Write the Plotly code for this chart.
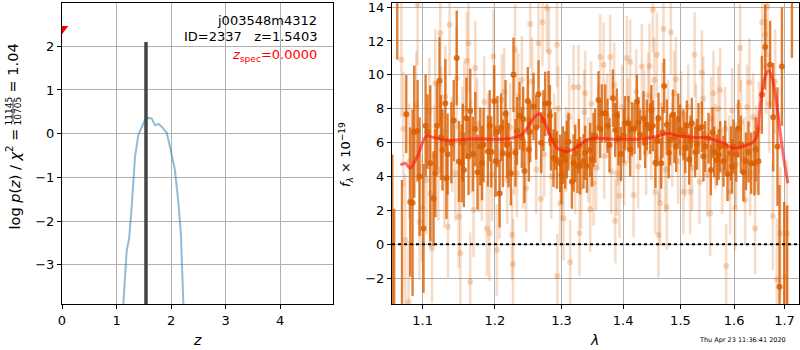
import plotly.graph_objects as go

# ---------------- redshift posterior panel ----------------
z_grid = [1.100, 1.125, 1.187, 1.229, 1.278, 1.339, 1.400, 1.462, 1.523, 1.572, 1.645,
          1.706, 1.767, 1.829, 1.920, 1.980, 2.070, 2.130, 2.180, 2.226, 2.240]
log_pz = [-4.6, -3.9, -2.66, -2.43, -1.67, -0.53, -0.03, 0.16, 0.32, 0.36, 0.35,
          0.19, 0.22, 0.16, 0.02, -0.30, -0.83, -1.52, -2.28, -3.9, -4.6]

z_best = 1.5403
spike_z = [z_best, z_best]
spike_logp = [-5.0, 2.10]

z_spec = 0.0
z_spec_marker = 2.4

# ---------------- spectrum panel ----------------
dark_wave = [1.0606, 1.0630, 1.0670, 1.0731, 1.0786, 1.0838, 1.0868, 1.0890, 1.0934, 1.1012,
             1.1065, 1.1102, 1.1146, 1.1192, 1.1226, 1.1266, 1.1305, 1.1336, 1.1387, 1.1461,
             1.1492, 1.1529, 1.1560, 1.1596, 1.1649, 1.1687, 1.1751, 1.1790, 1.1837, 1.1899,
             1.1947, 1.1990, 1.2037, 1.2067, 1.2116, 1.2154, 1.2198, 1.2233, 1.2271, 1.2321,
             1.2360, 1.2395, 1.2434, 1.2484, 1.2520, 1.2570, 1.2646, 1.2687, 1.2748, 1.2799,
             1.2836, 1.2876, 1.2929, 1.2980, 1.3022, 1.3058, 1.3110, 1.3164, 1.3216, 1.3253,
             1.3296, 1.3349, 1.3403, 1.3457, 1.3511, 1.3538, 1.3592, 1.3647, 1.3702, 1.3773,
             1.3830, 1.3868, 1.3923, 1.3964, 1.4035, 1.4091, 1.4149, 1.4193, 1.4234, 1.4291,
             1.4348, 1.4406, 1.4464, 1.4511, 1.4556, 1.4609, 1.4657, 1.4709, 1.4757, 1.4816,
             1.4864, 1.4923, 1.4995, 1.5055, 1.5116, 1.5158, 1.5207, 1.5268, 1.5329, 1.5391,
             1.5453, 1.5515, 1.5559, 1.5621, 1.5672, 1.5734, 1.5797, 1.5873, 1.5938, 1.5988,
             1.6084, 1.6181, 1.6279, 1.6332, 1.6396, 1.6475, 1.6543, 1.6609, 1.6709, 1.6770,
             1.6857, 1.6898, 1.6947, 1.6994, 1.7055, 1.7152,
             1.0960, 1.1040, 1.1170, 1.1245, 1.1320, 1.1420, 1.1545, 1.1625, 1.1720, 1.1815,
             1.1925, 1.2010, 1.2090, 1.2175, 1.2300, 1.2415, 1.2500, 1.2610, 1.2720, 1.2820,
             1.2905, 1.3000, 1.3085, 1.3190, 1.3275, 1.3375, 1.3485, 1.3620, 1.3740, 1.3895,
             1.4010, 1.4120, 1.4260, 1.4375, 1.4485, 1.4585, 1.4680, 1.4790, 1.4890, 1.4960,
             1.5085, 1.5185, 1.5300, 1.5420, 1.5590, 1.5705, 1.5830, 1.5960, 1.6040, 1.6130,
             1.6230, 1.6420]
dark_flux = [-6.0, -5.0, 16.5, -4.5, 7.68, 2.5, 2.46, 6.65, 6.69, 0.94,
             6.65, 4.78, 2.7, 6.99, 9.65, 5.57, 8.33, 5.32, 6.0, 11.0,
             4.89, 4.78, 4.39, 7.44, 7.87, 5.33, 4.25, 5.77, 5.86, 5.5,
             5.45, 8.46, 6.65, 3.0, 5.37, 7.7, 5.27, 4.19, 10.0, 6.69,
             7.58, 6.3, 4.33, 8.46, 6.65, 8.13, 8.86, 6.0, 8.29, 8.33,
             6.16, 5.08, 4.98, 4.78, 5.27, 4.98, 6.06, 3.7, 5.37, 4.62,
             4.64, 4.9, 4.64, 5.57, 6.16, 6.4, 8.52, 7.74, 7.74, 5.86,
             8.62, 6.75, 6.26, 5.33, 7.15, 7.15, 6.79, 6.83, 8.42, 6.46,
             7.44, 7.05, 6.83, 6.99, 4.82, 7.44, 4.78, 9.35, 7.05, 6.16,
             7.64, 5.77, 6.75, 6.46, 6.99, 5.02, 7.15, 5.45, 6.83, 6.93,
             5.77, 6.26, 4.39, 5.45, 4.98, 5.77, 4.9, 4.15, 5.37, 5.77,
             6.83, 4.25, 5.45, 4.78, 4.78, 4.9, 8.82, 11.64, 10.59, 7.5,
             5.77, -2.5, 10.49, -4.0, -5.0, 17.0,
             4.0, 7.0, 4.2, 6.3, 3.9, 7.3, 6.0, 5.2, 6.8, 4.8,
             7.0, 4.9, 6.9, 5.9, 5.4, 7.4, 5.6, 6.9, 7.3, 7.6,
             6.1, 4.1, 5.6, 4.8, 5.8, 5.4, 5.0, 6.8, 7.0, 7.6,
             6.4, 5.6, 7.2, 6.0, 7.9, 6.1, 6.6, 5.4, 6.3, 7.4,
             5.7, 6.1, 5.9, 5.2, 6.6, 5.3, 5.8, 4.6, 5.3, 5.9,
             4.9, 5.6]
dark_err = [11.3, 7.1, 5.6, 8.3, 2.3, 4.4, 5.5, 3.9, 3.0, 3.8,
            2.2, 4.6, 2.8, 2.6, 2.6, 2.4, 2.6, 2.4, 2.4, 2.8,
            2.4, 2.3, 2.2, 2.4, 2.5, 2.2, 2.2, 2.3, 2.2, 2.1,
            2.1, 2.1, 2.1, 2.0, 2.0, 2.0, 1.9, 1.9, 2.2, 2.0,
            2.0, 1.8, 1.9, 2.0, 1.8, 2.0, 2.0, 1.8, 1.9, 1.9,
            1.8, 1.7, 1.7, 1.7, 1.7, 1.7, 1.7, 1.6, 1.7, 1.6,
            1.7, 1.6, 1.6, 1.6, 1.6, 1.6, 1.7, 1.7, 1.7, 1.6,
            1.7, 1.6, 1.6, 1.6, 1.6, 1.6, 1.6, 1.5, 1.6, 1.5,
            1.6, 1.5, 1.5, 1.5, 1.5, 1.5, 1.5, 1.6, 1.5, 1.5,
            1.5, 1.5, 1.5, 1.5, 1.5, 1.5, 1.5, 1.5, 1.5, 1.5,
            1.5, 1.5, 1.5, 1.5, 1.5, 1.5, 1.5, 1.6, 1.6, 1.6,
            1.7, 1.7, 1.8, 1.8, 1.9, 2.0, 2.3, 2.5, 2.6, 3.2,
            3.5, 6.0, 3.5, 6.5, 7.3, 6.0,
            3.5, 3.0, 2.6, 2.5, 2.4, 2.4, 2.3, 2.3, 2.2, 2.2,
            2.1, 2.1, 2.0, 2.0, 2.0, 1.9, 1.9, 1.9, 1.8, 1.8,
            1.7, 1.7, 1.7, 1.7, 1.6, 1.6, 1.6, 1.7, 1.6, 1.6,
            1.6, 1.6, 1.5, 1.5, 1.5, 1.5, 1.5, 1.5, 1.5, 1.5,
            1.5, 1.5, 1.5, 1.5, 1.5, 1.5, 1.5, 1.6, 1.6, 1.7,
            1.7, 1.9]

light_wave = [1.0723, 1.0773, 1.0816, 1.0934, 1.0960, 1.0992, 1.1102, 1.1125, 1.1169, 1.1237,
              1.1305, 1.1341, 1.1363, 1.1461, 1.1488, 1.1511, 1.1603, 1.1626, 1.1649, 1.1696,
              1.1719, 1.1813, 1.1884, 1.1920, 1.1978, 1.2028, 1.2067, 1.2102, 1.2250, 1.2265,
              1.2296, 1.2321, 1.2395, 1.2460, 1.2520, 1.2646, 1.2682, 1.2707, 1.2775, 1.2806,
              1.2929, 1.2935, 1.2980, 1.3032, 1.3137, 1.3190, 1.3269, 1.3285, 1.3376, 1.3457,
              1.3511, 1.3620, 1.3675, 1.3785, 1.3868, 1.3896, 1.3940, 1.4063, 1.4120, 1.4177,
              1.4320, 1.4452, 1.4511, 1.4551, 1.4581, 1.4609, 1.4639, 1.4697, 1.4757, 1.4828,
              1.4918, 1.5055, 1.5177, 1.5257, 1.5348, 1.5391, 1.5546, 1.5608, 1.5734, 1.5848,
              1.5924, 1.6020, 1.6084, 1.6117, 1.6214, 1.6298, 1.6410, 1.6549, 1.6609, 1.6655,
              1.6763, 1.6844, 1.6912, 1.7014, 1.7049,
              1.0748, 1.0825, 1.0917, 1.1049, 1.1089, 1.1155, 1.1210, 1.1251, 1.1291, 1.1400,
              1.1441, 1.1539, 1.1566, 1.1663, 1.1747, 1.1775, 1.1847, 1.1904, 1.1961, 1.2135,
              1.2179, 1.2223, 1.2282, 1.2340, 1.2415, 1.2490, 1.2550, 1.2611, 1.2733, 1.2841,
              1.2887, 1.2949, 1.3011, 1.3074, 1.3121, 1.3216, 1.3312, 1.3360, 1.3425, 1.3473,
              1.3554, 1.3587, 1.3686, 1.3735, 1.3801, 1.3851, 1.3918, 1.3985, 1.4018, 1.4086,
              1.4222, 1.4256, 1.4360, 1.4394, 1.4429, 1.4481, 1.4534, 1.4622, 1.4674, 1.4727,
              1.4780, 1.4851, 1.4887, 1.4959, 1.5013, 1.5086, 1.5140, 1.5213, 1.5287, 1.5416,
              1.5490, 1.5565, 1.5640, 1.5696, 1.5772, 1.5829, 1.5905, 1.5962, 1.6039, 1.6136,
              1.6195, 1.6253, 1.6312, 1.6371, 1.6430, 1.6489, 1.6629, 1.6689, 1.6810]
light_flux = [10.9, 0.25, -3.4, 14.15, 1.33, 2.13, 3.0, -0.24, 9.5, 12.46,
              8.72, 1.04, 12.95, 9.8, 1.63, -0.53, 10.83, 11.87, -2.2, 2.03,
              10.4, 4.19, 0.94, 0.65, 11.08, -0.34, 3.0, 8.52, 0.55, -1.18,
              11.48, 4.19, 9.7, 3.3, 13.0, 11.87, 2.68, 13.11, 13.94, 11.38,
              11.77, -1.87, 2.42, 1.54, -1.06, 9.27, 9.27, 0.65, 8.92, 2.07,
              3.6, 11.05, 10.59, 11.05, 1.38, 4.19, 2.87, 10.99, 10.77, 2.91,
              10.49, 10.53, 13.84, 3.1, 11.18, 0.55, 2.42, 12.7, 2.19, 12.52,
              9.74, 3.1, 3.1, 11.18, 3.7, 10.14, 1.83, 8.92, 9.11, -1.28,
              3.1, 2.13, 8.17, 11.58, 2.62, 9.55, 0.94, 13.11, 12.36, 14.03,
              1.67, -2.07, 0.65, -1.91, 0.65,
              6.8, 4.9, 8.2, 3.8, 7.9, 5.2, 4.4, 7.6, 3.9, 5.9,
              4.2, 6.5, 8.0, 5.8, 7.1, 4.6, 8.4, 6.2, 4.1, 9.0,
              3.8, 6.9, 5.5, 8.7, 4.7, 7.3, 9.6, 4.4, 5.3, 4.0,
              6.4, 8.0, 3.9, 5.6, 7.5, 4.3, 3.4, 7.8, 5.0, 8.3,
              4.5, 6.9, 5.2, 7.6, 4.3, 9.4, 6.0, 8.1, 4.8, 7.3,
              9.0, 4.6, 7.8, 5.4, 8.8, 6.3, 9.7, 5.0, 8.2, 4.4,
              7.2, 5.9, 8.9, 4.9, 7.7, 5.3, 8.1, 4.5, 7.0, 8.6,
              4.1, 7.4, 5.8, 8.0, 4.3, 6.8, 5.1, 7.9, 4.7, 7.2,
              5.0, 8.1, 4.2, 7.5, 5.6, 6.9, 10.5, 8.3, 9.6]
light_err = [3.4, 3.9, 3.6, 3.6, 3.4, 3.2, 3.2, 3.2, 3.2, 3.2,
             3.0, 3.0, 3.0, 3.0, 3.0, 3.0, 2.9, 2.9, 2.9, 2.8,
             2.8, 2.8, 2.8, 2.8, 2.8, 2.7, 2.7, 2.7, 2.7, 2.7,
             2.7, 2.6, 2.6, 2.6, 2.6, 2.6, 2.6, 2.6, 2.6, 2.6,
             2.5, 2.5, 2.5, 2.5, 2.5, 2.5, 2.5, 2.5, 2.5, 2.5,
             2.5, 2.5, 2.5, 2.5, 2.5, 2.5, 2.5, 2.5, 2.5, 2.5,
             2.5, 2.5, 2.5, 2.5, 2.5, 2.5, 2.5, 2.5, 2.5, 2.5,
             2.5, 2.5, 2.5, 2.5, 2.5, 2.5, 2.5, 2.5, 2.5, 2.5,
             2.5, 2.5, 2.5, 2.6, 2.6, 2.6, 2.7, 2.8, 2.9, 3.0,
             3.2, 3.6, 3.9, 4.1, 4.3,
             3.4, 3.4, 3.2, 3.2, 3.1, 3.0, 3.0, 2.9, 2.9, 2.8,
             2.8, 2.8, 2.8, 2.8, 2.7, 2.7, 2.7, 2.7, 2.7, 2.6,
             2.6, 2.6, 2.6, 2.6, 2.6, 2.6, 2.6, 2.6, 2.5, 2.5,
             2.5, 2.5, 2.5, 2.5, 2.5, 2.5, 2.5, 2.5, 2.5, 2.5,
             2.5, 2.5, 2.5, 2.5, 2.5, 2.5, 2.5, 2.5, 2.5, 2.5,
             2.5, 2.5, 2.5, 2.5, 2.5, 2.5, 2.5, 2.5, 2.5, 2.5,
             2.5, 2.5, 2.5, 2.5, 2.5, 2.5, 2.5, 2.5, 2.5, 2.5,
             2.5, 2.5, 2.5, 2.5, 2.5, 2.5, 2.5, 2.5, 2.5, 2.5,
             2.5, 2.5, 2.5, 2.6, 2.6, 2.7, 2.8, 2.9, 3.1]

model_wave = [1.0709, 1.0773, 1.0838, 1.0948, 1.1013, 1.1058, 1.1146, 1.1305, 1.1461, 1.1649,
              1.2004, 1.2223, 1.2321, 1.2420, 1.2520, 1.2596, 1.2661, 1.2748, 1.2851, 1.2918,
              1.2980, 1.3085, 1.3216, 1.3403, 1.3538, 1.3785, 1.4007, 1.4291, 1.4581, 1.4786,
              1.4905, 1.5055, 1.5268, 1.5484, 1.5640, 1.5797, 1.5988, 1.6117, 1.6247, 1.6345,
              1.6444, 1.6489, 1.6543, 1.6609, 1.6675, 1.6743, 1.6830, 1.6898, 1.6979, 1.7070]
model_flux = [4.68, 4.78, 4.49, 5.37, 6.16, 6.40, 6.30, 6.15, 6.16, 6.22,
              6.20, 6.25, 6.36, 6.56, 7.15, 7.55, 7.70, 7.15, 6.16, 5.75,
              5.57, 5.47, 5.67, 6.16, 6.26, 6.22, 6.20, 6.22, 6.36, 6.56,
              6.46, 6.36, 6.30, 6.30, 6.15, 5.97, 5.67, 5.72, 5.86, 5.97,
              6.36, 7.54, 8.92, 9.90, 10.24, 9.90, 8.52, 6.95, 5.17, 3.60]

z_ticks = [0, 1, 2, 3, 4]
logp_ticks = [-3, -2, -1, 0, 1, 2]
wave_ticks = [1.1, 1.2, 1.3, 1.4, 1.5, 1.6, 1.7]
flux_ticks = [-2, 0, 2, 4, 6, 8, 10, 12, 14]

W, H = 800, 350
FONT = "DejaVu Sans"
ORANGE = "217,95,2"


def px(x):
    return x / W


def py(y):
    return 1 - y / H


fig = go.Figure()

# p(z) curve, best-fit spike and z_spec marker
fig.add_trace(go.Scatter(x=z_grid, y=log_pz, mode="lines",
                         line=dict(color="rgba(31,119,180,0.5)", width=2),
                         xaxis="x", yaxis="y", showlegend=False))
fig.add_trace(go.Scatter(x=spike_z, y=spike_logp, mode="lines",
                         line=dict(color="#444444", width=3.5),
                         xaxis="x", yaxis="y", showlegend=False))
fig.add_trace(go.Scatter(x=[z_spec], y=[z_spec_marker], mode="markers",
                         marker=dict(symbol="triangle-down", color="red", size=11),
                         cliponaxis=True, xaxis="x", yaxis="y", showlegend=False))

# faint spectrum points
fig.add_trace(go.Scatter(x=light_wave, y=light_flux, mode="markers",
                         marker=dict(color=f"rgba({ORANGE},0.24)", size=6),
                         error_y=dict(type="data", array=light_err, visible=True,
                                      color=f"rgba({ORANGE},0.22)", thickness=2.6, width=0),
                         xaxis="x2", yaxis="y2", showlegend=False))
# main spectrum points
fig.add_trace(go.Scatter(x=dark_wave, y=dark_flux, mode="markers",
                         marker=dict(color=f"rgba({ORANGE},0.85)", size=6),
                         error_y=dict(type="data", array=dark_err, visible=True,
                                      color=f"rgba({ORANGE},0.8)", thickness=2.4, width=0),
                         xaxis="x2", yaxis="y2", showlegend=False))
# model
fig.add_trace(go.Scatter(x=model_wave, y=model_flux, mode="lines",
                         line=dict(color="rgba(255,20,20,0.62)", width=3, shape="spline",
                                   smoothing=0.8),
                         xaxis="x2", yaxis="y2", showlegend=False))

axis_common = dict(showline=True, linecolor="black", linewidth=1, mirror=True,
                   ticks="outside", ticklen=4, tickcolor="black", automargin=False,
                   ticklabeloverflow="allow",
                   showgrid=True, gridcolor="#b0b0b0", gridwidth=1, zeroline=False,
                   tickfont=dict(family=FONT, size=13, color="black"))

fig.update_layout(
    template="none",
    width=W, height=H, autosize=False,
    margin=dict(l=0, r=0, t=0, b=0, pad=0),
    paper_bgcolor="white", plot_bgcolor="white",
    font=dict(family=FONT, color="black"),
    xaxis=dict(domain=[px(62), px(333)], range=[0, 4.97], tickvals=z_ticks,
               anchor="y", **axis_common),
    yaxis=dict(domain=[py(304), py(3)], range=[-3.9, 2.99], tickvals=logp_ticks,
               anchor="x", **axis_common),
    xaxis2=dict(domain=[px(392), px(799)], type="log", range=[0.02541, 0.23802],
                tickvals=wave_ticks, ticktext=[str(t) for t in wave_ticks],
                anchor="y2", **axis_common),
    yaxis2=dict(domain=[py(304), py(3)], range=[-3.52, 14.24], tickvals=flux_ticks,
                anchor="x2", **axis_common),
)

# dotted zero level
fig.add_shape(type="line", xref="x2 domain", yref="y2", x0=0, x1=1, y0=0, y1=0,
              line=dict(color="black", width=2, dash="dot"), layer="above")

ann = []
# object labels
ann.append(dict(text="j003548m4312", x=px(319), y=py(20), xanchor="right", yanchor="middle",
                font=dict(size=13, color="black")))
ann.append(dict(text="ID=2337   z=1.5403", x=px(319), y=py(36), xanchor="right",
                yanchor="middle", font=dict(size=13, color="black")))
ann.append(dict(text="<i>z</i><sub>spec</sub>=0.0000", x=px(319), y=py(55), xanchor="right",
                yanchor="middle", font=dict(size=13, color="red")))
# axis titles
ann.append(dict(text="<i>z</i>", x=px(197), y=py(340), xanchor="center", yanchor="middle",
                font=dict(size=14)))
ann.append(dict(text="<i>λ</i>", x=px(594), y=py(340), xanchor="center", yanchor="middle",
                font=dict(size=14)))
ann.append(dict(text="<i>f</i><sub><i>λ</i></sub> × 10<sup>−19</sup>", x=px(346), y=py(155),
                xanchor="center", yanchor="middle", textangle=-90, font=dict(size=13)))
ann.append(dict(text="log <i>p</i>(<i>z</i>) / <i>χ</i><sup>2</sup> = ", x=px(13), y=py(123),
                xanchor="center", yanchor="top", textangle=-90, font=dict(size=14.5)))
ann.append(dict(text="11145", x=px(8.5), y=py(111), xanchor="center", yanchor="middle",
                textangle=-90, font=dict(size=9)))
ann.append(dict(text="10705", x=px(17.5), y=py(111), xanchor="center", yanchor="middle",
                textangle=-90, font=dict(size=9)))
ann.append(dict(text=" = 1.04", x=px(13), y=py(99), xanchor="center", yanchor="bottom",
                textangle=-90, font=dict(size=14.5)))
ann.append(dict(text="Thu Apr 23 11:36:41 2020", x=px(742), y=py(340), xanchor="center",
                yanchor="middle", font=dict(size=6.5)))
for a in ann:
    a.update(xref="paper", yref="paper", showarrow=False)
    a["font"].setdefault("family", FONT)
    a["font"].setdefault("color", "black")
fig.update_layout(annotations=ann)

# fraction bar of the chi^2 ratio
fig.add_shape(type="line", xref="paper", yref="paper", x0=px(13), x1=px(13),
              y0=py(100), y1=py(122), line=dict(color="black", width=0.8))

fig.write_html("out.html")
